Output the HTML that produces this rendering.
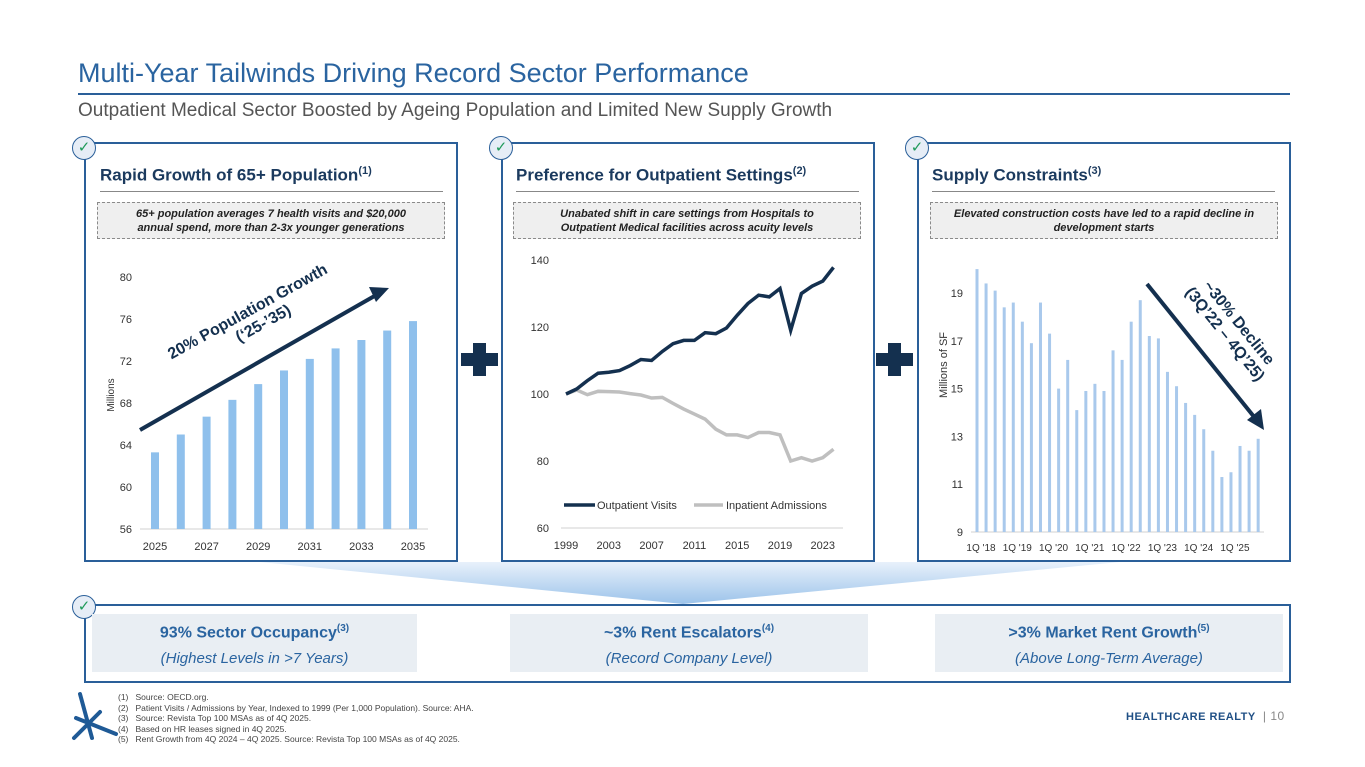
<!DOCTYPE html>
<html><head><meta charset="utf-8"><style>
body{margin:0;width:1365px;height:767px;background:#fff;font-family:"Liberation Sans",sans-serif;position:relative;overflow:hidden}
.a{position:absolute}
.panel{position:absolute;border:2px solid #2a5f99;box-sizing:border-box;background:#fff}
.ck{position:absolute;width:24px;height:24px;border-radius:50%;border:1.5px solid #2a5f99;background:#e6edf6;box-sizing:border-box;color:#1f9a5a;font-size:15px;text-align:center;line-height:21px}
.ptitle{position:absolute;font-size:17px;font-weight:bold;color:#1b3a5e}
.ptitle sup{font-size:11px}
.rule{position:absolute;height:1px;background:#888}
.dash{position:absolute;border:1.5px dashed #8a8a8a;background:#efefef;box-sizing:border-box;font-size:11px;font-weight:bold;font-style:italic;color:#222;text-align:center;line-height:14px;padding-top:4px}
.plus{position:absolute;width:37px;height:33px}
.plus:before{content:"";position:absolute;left:0;top:10px;width:37px;height:13px;background:#14304f}
.plus:after{content:"";position:absolute;left:12px;top:0;width:13px;height:33px;background:#14304f}
.kb{position:absolute;background:#e9eef3;text-align:center;color:#2a64a0}
.kb .h{font-size:16px;font-weight:bold;margin-top:9px}
.kb .h sup{font-size:10px}
.kb .s{font-size:15px;font-style:italic;margin-top:8px}
.fn{position:absolute;left:118px;font-size:8.5px;color:#444;line-height:10.5px}
svg text{font-family:"Liberation Sans",sans-serif}
</style></head><body>
<div class="a" style="left:78px;top:58px;font-size:27px;color:#2a64a0">Multi-Year Tailwinds Driving Record Sector Performance</div>
<div class="a" style="left:78px;top:93px;width:1212px;height:2px;background:#2a5f99"></div>
<div class="a" style="left:78px;top:100px;font-size:19px;color:#555">Outpatient Medical Sector Boosted by Ageing Population and Limited New Supply Growth</div>

<svg class="a" style="left:0;top:0" width="1365" height="767">
<defs><linearGradient id="fg" x1="0" y1="0" x2="0" y2="1"><stop offset="0" stop-color="#e8f1fb"/><stop offset="1" stop-color="#9cc3ea"/></linearGradient></defs>
<polygon points="260,562 1120,562 683,604" fill="url(#fg)"/>
</svg>

<div class="panel" style="left:84px;top:142px;width:374px;height:420px"></div>
<div class="panel" style="left:501px;top:142px;width:374px;height:420px"></div>
<div class="panel" style="left:917px;top:142px;width:374px;height:420px"></div>
<div class="ck" style="left:72px;top:136px">✓</div>
<div class="ck" style="left:489px;top:136px">✓</div>
<div class="ck" style="left:905px;top:136px">✓</div>

<div class="ptitle" style="left:100px;top:165px">Rapid Growth of 65+ Population<sup>(1)</sup></div>
<div class="ptitle" style="left:516px;top:165px">Preference for Outpatient Settings<sup>(2)</sup></div>
<div class="ptitle" style="left:932px;top:165px">Supply Constraints<sup>(3)</sup></div>
<div class="rule" style="left:100px;top:191px;width:343px"></div>
<div class="rule" style="left:516px;top:191px;width:343px"></div>
<div class="rule" style="left:932px;top:191px;width:343px"></div>
<div class="dash" style="left:97px;top:202px;width:348px;height:37px">65+ population averages 7 health visits and $20,000<br>annual spend, more than 2-3x younger generations</div>
<div class="dash" style="left:513px;top:202px;width:348px;height:37px">Unabated shift in care settings from Hospitals to<br>Outpatient Medical facilities across acuity levels</div>
<div class="dash" style="left:930px;top:202px;width:348px;height:37px">Elevated construction costs have led to a rapid decline in<br>development starts</div>

<div class="plus" style="left:461px;top:343px"></div>
<div class="plus" style="left:876px;top:343px"></div>

<svg id="c1" class="a" style="left:84px;top:250px" width="374" height="310"></svg>
<svg id="c2" class="a" style="left:501px;top:250px" width="374" height="310"></svg>
<svg id="c3" class="a" style="left:917px;top:250px" width="374" height="310"></svg>

<div class="panel" style="left:84px;top:604px;width:1207px;height:79px"></div>
<div class="ck" style="left:72px;top:595px">✓</div>
<div class="kb" style="left:92px;top:614px;width:325px;height:58px"><div class="h">93% Sector Occupancy<sup>(3)</sup></div><div class="s">(Highest Levels in &gt;7 Years)</div></div>
<div class="kb" style="left:510px;top:614px;width:358px;height:58px"><div class="h">~3% Rent Escalators<sup>(4)</sup></div><div class="s">(Record Company Level)</div></div>
<div class="kb" style="left:935px;top:614px;width:348px;height:58px"><div class="h">&gt;3% Market Rent Growth<sup>(5)</sup></div><div class="s">(Above Long-Term Average)</div></div>

<svg class="a" style="left:70px;top:690px" width="50" height="55">
<g stroke="#1f5a96" stroke-width="4" stroke-linecap="round"><line x1="10" y1="4" x2="22" y2="48"/><line x1="4" y1="48" x2="30" y2="22"/><line x1="6" y1="28" x2="46" y2="44"/></g></svg>
<div class="fn" style="top:692px">
<div>(1)&nbsp;&nbsp;&nbsp;Source: OECD.org.</div>
<div>(2)&nbsp;&nbsp;&nbsp;Patient Visits / Admissions by Year, Indexed to 1999 (Per 1,000 Population). Source: AHA.</div>
<div>(3)&nbsp;&nbsp;&nbsp;Source: Revista Top 100 MSAs as of 4Q 2025.</div>
<div>(4)&nbsp;&nbsp;&nbsp;Based on HR leases signed in 4Q 2025.</div>
<div>(5)&nbsp;&nbsp;&nbsp;Rent Growth from 4Q 2024 – 4Q 2025. Source: Revista Top 100 MSAs as of 4Q 2025.</div></div>
<div class="a" style="left:1126px;top:709px;font-size:11px;font-weight:bold;color:#1f4f85;letter-spacing:0.5px">HEALTHCARE REALTY <span style="color:#888;font-weight:normal;font-size:12px">&nbsp;| 10</span></div>

<script>
const popYears=["2025","2026","2027","2028","2029","2030","2031","2032","2033","2034","2035"];
const popValues=[63.3,65.0,66.7,68.3,69.8,71.1,72.2,73.2,74.0,74.9,75.8];
const popTicks=[56,60,64,68,72,76,80];
const opYears=[1999,2000,2001,2002,2003,2004,2005,2006,2007,2008,2009,2010,2011,2012,2013,2014,2015,2016,2017,2018,2019,2020,2021,2022,2023,2024];
const outpatient=[100,101.5,104,106.2,106.5,107,108.5,110.3,110,112.7,115,116,116,118.3,118,119.7,123.5,127,129.5,129,131.5,119,130,132.2,133.7,137.8];
const inpatient=[100,101.2,99.8,100.8,100.7,100.6,100.1,99.7,98.8,99,97.2,95.5,94,92.5,89.5,87.8,87.8,87,88.5,88.5,87.8,80,81,80,81,83.5];
const opTicks=[60,80,100,120,140];
const opXLabels=[1999,2003,2007,2011,2015,2019,2023];
const supplyQuarters=["1Q '18","2Q '18","3Q '18","4Q '18","1Q '19","2Q '19","3Q '19","4Q '19","1Q '20","2Q '20","3Q '20","4Q '20","1Q '21","2Q '21","3Q '21","4Q '21","1Q '22","2Q '22","3Q '22","4Q '22","1Q '23","2Q '23","3Q '23","4Q '23","1Q '24","2Q '24","3Q '24","4Q '24","1Q '25","2Q '25","3Q '25","4Q '25"];
const supplyValues=[20.0,19.4,19.1,18.4,18.6,17.8,16.9,18.6,17.3,15.0,16.2,14.1,14.9,15.2,14.9,16.6,16.2,17.8,18.7,17.2,17.1,15.7,15.1,14.4,13.9,13.3,12.4,11.3,11.5,12.6,12.4,12.9];
const supplyTicks=[9,11,13,15,17,19];

const NS="http://www.w3.org/2000/svg";
function mk(svg,tag,attrs,txt){const e=document.createElementNS(NS,tag);for(const k in attrs)e.setAttribute(k,attrs[k]);if(txt!==undefined)e.textContent=txt;svg.appendChild(e);return e;}

// Chart 1
(function(){
const s=document.getElementById('c1');
const y=v=>279-(v-56)/(80-56)*(279-27);
const x=i=>71+i*25.8;
mk(s,'line',{x1:56,x2:344,y1:279,y2:279,stroke:'#d0d0d0'});
popTicks.forEach(t=>{const e=mk(s,'text',{x:48,y:y(t)+4,'text-anchor':'end','font-size':11,fill:'#333'},t);

});
popValues.forEach((v,i)=>{const r=mk(s,'rect',{x:x(i)-4,y:y(v),width:8,height:279-y(v),fill:'#8fc0ec'});

});
popYears.forEach((yr,i)=>{if(i%2==0){const e=mk(s,'text',{x:x(i),y:300,'text-anchor':'middle','font-size':11,fill:'#333'},yr);

}});
const yt=mk(s,'text',{transform:'rotate(-90) translate(-145,30)','text-anchor':'middle','font-size':10,fill:'#333'},'Millions');


mk(s,'line',{x1:56,y1:180,x2:294,y2:44,stroke:'#14304f','stroke-width':4});
mk(s,'polygon',{points:'305,38 285,37 292,52',fill:'#14304f'});
const g=mk(s,'g',{transform:'translate(166,66) rotate(-29)'});
mk(g,'text',{x:0,y:0,'text-anchor':'middle','font-size':16,'font-weight':'bold',fill:'#14304f'},'20% Population Growth');
mk(g,'text',{x:8,y:18,'text-anchor':'middle','font-size':16,'font-weight':'bold',fill:'#14304f'},'(‘25-’35)');
})();

// Chart 2
(function(){
const s=document.getElementById('c2');
const y=v=>278-(v-60)/80*268;
const x=yr=>65+(yr-1999)*10.7;
mk(s,'line',{x1:60,x2:342,y1:278,y2:278,stroke:'#d0d0d0'});
opTicks.forEach(t=>{const e=mk(s,'text',{x:48,y:y(t)+4,'text-anchor':'end','font-size':11,fill:'#333'},t);

});
opXLabels.forEach(t=>{const e=mk(s,'text',{x:x(t),y:299,'text-anchor':'middle','font-size':11,fill:'#333'},t);

});
const p2=mk(s,'polyline',{points:opYears.map((yr,i)=>x(yr)+','+y(inpatient[i])).join(' '),fill:'none',stroke:'#bfbfbf','stroke-width':3.5});


const p1=mk(s,'polyline',{points:opYears.map((yr,i)=>x(yr)+','+y(outpatient[i])).join(' '),fill:'none',stroke:'#14304f','stroke-width':3.5});


mk(s,'line',{x1:63,x2:94,y1:255,y2:255,stroke:'#14304f','stroke-width':3.5});
const l1=mk(s,'text',{x:96,y:259,'font-size':11,fill:'#333'},'Outpatient Visits');


mk(s,'line',{x1:193,x2:222,y1:255,y2:255,stroke:'#bfbfbf','stroke-width':3.5});
const l2=mk(s,'text',{x:225,y:259,'font-size':11,fill:'#333'},'Inpatient Admissions');


})();

// Chart 3
(function(){
const s=document.getElementById('c3');
const y=v=>282-(v-9)/10*239;
const x=i=>60+i*9.07;
mk(s,'line',{x1:54,x2:347,y1:282,y2:282,stroke:'#d0d0d0'});
supplyTicks.forEach(t=>{const e=mk(s,'text',{x:46,y:y(t)+4,'text-anchor':'end','font-size':11,fill:'#333'},t);

});
supplyValues.forEach((v,i)=>{const r=mk(s,'rect',{x:x(i)-1.5,y:y(v),width:3,height:282-y(v),fill:'#a9c9ec'});

});
supplyQuarters.forEach((q,i)=>{if(i%4==0){const e=mk(s,'text',{x:x(i)+4,y:301,'text-anchor':'middle','font-size':10,fill:'#333'},q);

}});
const yt=mk(s,'text',{transform:'rotate(-90) translate(-115,30)','text-anchor':'middle','font-size':11,fill:'#333'},'Millions of SF');


mk(s,'line',{x1:230,y1:34,x2:338,y2:168,stroke:'#14304f','stroke-width':4});
mk(s,'polygon',{points:'347,180 330,170 344,159',fill:'#14304f'});
const g=mk(s,'g',{transform:'translate(318,76) rotate(51)'});
mk(g,'text',{x:0,y:0,'text-anchor':'middle','font-size':16,'font-weight':'bold',fill:'#14304f'},'~30% Decline');
mk(g,'text',{x:0,y:18,'text-anchor':'middle','font-size':16,'font-weight':'bold',fill:'#14304f'},'(3Q’22 – 4Q’25)');
})();
</script>
</body></html>
